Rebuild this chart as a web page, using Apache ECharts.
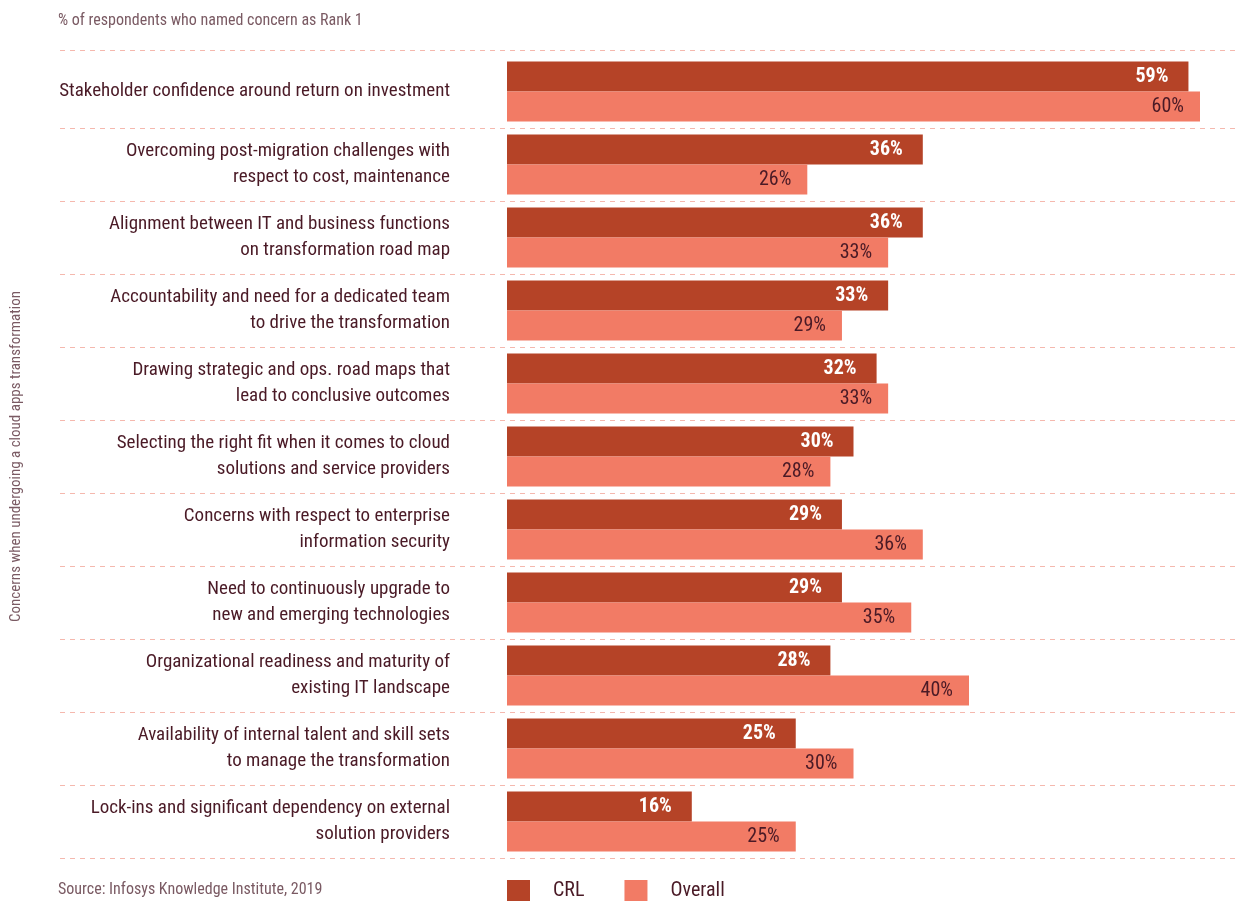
<!DOCTYPE html>
<html>
<head>
<meta charset="utf-8">
<style>
  html, body { margin: 0; padding: 0; background: #ffffff; }
  #chart { width: 1237px; height: 901px; }
</style>
<script src="https://cdn.jsdelivr.net/npm/echarts@6/dist/echarts.min.js"></script>
</head>
<body>
<div id="chart"></div>
<script>
// Concerns ranked first, CRL vs overall respondents (%)
const categories = [
  'Stakeholder confidence around return on investment',
  'Overcoming post-migration challenges with\nrespect to cost, maintenance',
  'Alignment between IT and business functions\non transformation road map',
  'Accountability and need for a dedicated team\nto drive the transformation',
  'Drawing strategic and ops. road maps that\nlead to conclusive outcomes',
  'Selecting the right fit when it comes to cloud\nsolutions and service providers',
  'Concerns with respect to enterprise\ninformation security',
  'Need to continuously upgrade to\nnew and emerging technologies',
  'Organizational readiness and maturity of\nexisting IT landscape',
  'Availability of internal talent and skill sets\nto manage the transformation',
  'Lock-ins and significant dependency on external\nsolution providers'
];
const crlValues = [59, 36, 36, 33, 32, 30, 29, 29, 28, 25, 16];
const overallValues = [60, 26, 33, 29, 33, 28, 36, 35, 40, 30, 25];

const FONT = '"Roboto Condensed", "DejaVu Sans Condensed", "Noto Sans", sans-serif';
const DARK = '#4a1a26';
const MUTED = '#7a5a63';
const CRL_COLOR = '#b54327';
const OVERALL_COLOR = '#f27b65';
const RULE_COLOR = '#f5b8ae';

const chart = echarts.init(document.getElementById('chart'), null, { renderer: 'canvas' });

const option = {
  backgroundColor: '#ffffff',
  animation: false,
  textStyle: { fontFamily: FONT },
  title: [
    {
      text: '% of respondents who named concern as Rank 1',
      left: 58, top: 13, padding: 0,
      textStyle: { fontFamily: FONT, fontSize: 16, fontWeight: 'normal', color: MUTED }
    },
    {
      text: 'Source: Infosys Knowledge Institute, 2019',
      left: 58, top: 882, padding: 0,
      textStyle: { fontFamily: FONT, fontSize: 16, fontWeight: 'normal', color: MUTED }
    }
  ],
  legend: {
    left: 507, top: 880, padding: 0,
    itemWidth: 23, itemHeight: 21,
    itemGap: 40,
    icon: 'rect',
    textStyle: { fontFamily: FONT, fontSize: 20, color: DARK, padding: [0, 0, 0, 18] },
    data: ['CRL', 'Overall']
  },
  grid: { left: 507, right: 37, top: 55, height: 803, outerBoundsMode: 'none', containLabel: false },
  xAxis: {
    type: 'value', min: 0, max: 60,
    show: false
  },
  yAxis: {
    type: 'category',
    inverse: true,
    data: categories,
    name: 'Concerns when undergoing a cloud apps transformation',
    nameLocation: 'middle',
    nameRotate: 90,
    nameGap: 483,
    nameTextStyle: { fontFamily: FONT, fontSize: 15, color: MUTED },
    axisLine: { show: false },
    axisTick: { show: false },
    splitLine: { show: false },
    axisLabel: {
      margin: 57,
      align: 'right',
      fontFamily: FONT,
      fontSize: 19,
      lineHeight: 26,
      color: DARK
    }
  },
  series: [
    {
      name: 'CRL',
      type: 'bar',
      data: crlValues,
      barWidth: 30,
      barGap: '0%',
      itemStyle: { color: CRL_COLOR },
      label: {
        show: true,
        position: 'insideRight',
        distance: 20,
        formatter: '{c}%',
        fontFamily: FONT,
        fontSize: 20,
        fontWeight: 'bold',
        color: '#ffffff'
      }
    },
    {
      name: 'Overall',
      type: 'bar',
      data: overallValues,
      barWidth: 30,
      itemStyle: { color: OVERALL_COLOR },
      label: {
        show: true,
        position: 'insideRight',
        distance: 16,
        formatter: '{c}%',
        fontFamily: FONT,
        fontSize: 20,
        color: DARK
      }
    }
  ]
};

chart.setOption(option);

// Dashed row separators, placed on the category band boundaries
const rules = [];
const lineStyle = { stroke: RULE_COLOR, lineWidth: 1, lineDash: [5, 5] };
rules.push({ type: 'line', shape: { x1: 60, y1: 50.5, x2: 1237, y2: 50.5 }, style: lineStyle, silent: true });
for (let i = 0; i < categories.length; i++) {
  const c = chart.convertToPixel({ yAxisIndex: 0 }, i);
  const next = i + 1 < categories.length ? chart.convertToPixel({ yAxisIndex: 0 }, i + 1) : null;
  const prev = i > 0 ? chart.convertToPixel({ yAxisIndex: 0 }, i - 1) : null;
  const half = next !== null ? (next - c) / 2 : (c - prev) / 2;
  const y = Math.round(c + half) + 0.5;
  rules.push({ type: 'line', shape: { x1: 60, y1: y, x2: 1237, y2: y }, style: lineStyle, silent: true, z: 0 });
}
chart.setOption({ graphic: rules });
</script>
</body>
</html>
